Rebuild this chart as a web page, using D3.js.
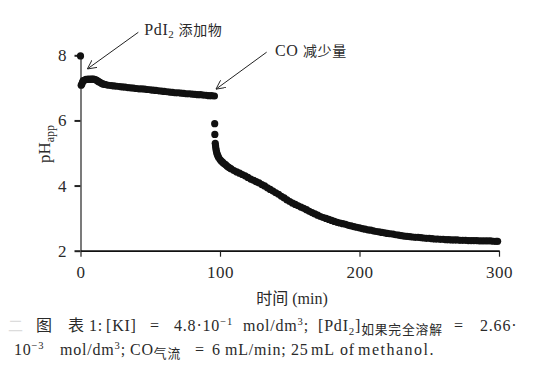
<!DOCTYPE html>
<html>
<head>
<meta charset="utf-8">
<script src="https://cdn.jsdelivr.net/npm/d3@7"></script>
<style>
body { margin: 0; background: #fff; }
text { font-family: "Liberation Serif", "Noto Sans CJK SC", serif; fill: #2a2a2a; }
</style>
</head>
<body>
<svg id="chart" width="538" height="372"></svg>
<script>
const xTicks = [0, 100, 200, 300];
const yTicks = [2, 4, 6, 8];

// before CO flow is reduced (PdI2 added at t=0)
const addTime = [0, 0.5, 1, 1.5, 2, 3, 4, 5, 6, 7, 8, 9, 10, 11, 12, 13, 14, 15, 16, 17, 18,
    20, 22, 24, 26, 28, 30, 32, 34, 36, 38, 40, 42, 44, 46, 48, 50, 52, 54, 56, 58,
    60, 62, 64, 66, 68, 70, 72, 74, 76, 78, 80, 82, 84, 86, 88, 90, 92, 94, 96];
const addPH = [7.98, 7.08, 7.12, 7.18, 7.22, 7.24, 7.26, 7.26, 7.27, 7.26, 7.27, 7.27, 7.26, 7.25, 7.22, 7.19, 7.17, 7.14, 7.12, 7.11, 7.10,
    7.08, 7.07, 7.06, 7.05, 7.04, 7.03, 7.02, 7.01, 7.00, 6.99, 6.98, 6.97, 6.97, 6.96, 6.95, 6.94, 6.93, 6.92, 6.91, 6.90,
    6.89, 6.88, 6.87, 6.86, 6.85, 6.85, 6.84, 6.83, 6.82, 6.82, 6.81, 6.80, 6.79, 6.79, 6.78, 6.77, 6.76, 6.76, 6.75];

// after CO flow is reduced
const coTime = [96.2, 96.3, 96.6, 96.8, 97, 97.3, 97.6, 98, 98.5, 99, 100, 101, 102, 103, 104, 105, 106, 107, 108,
    110, 112, 114, 116, 118, 120, 122, 124, 126, 128, 130, 132, 134, 136, 138, 140, 142, 144, 146, 148,
    150, 152, 154, 156, 158, 160, 162, 164, 166, 168, 170, 172, 174, 176, 178, 180, 182, 184, 186, 188,
    190, 192, 194, 196, 198, 200, 202, 204, 206, 208, 210, 212, 214, 216, 218, 220, 222, 224, 226, 228,
    230, 232, 234, 236, 238, 240, 242, 244, 246, 248, 250, 252, 254, 256, 258, 260, 262, 264, 266, 268,
    270, 272, 274, 276, 278, 280, 282, 284, 286, 288, 290, 292, 294, 296, 298, 299];
const coPH = [5.90, 5.57, 5.30, 5.22, 5.15, 5.08, 5.02, 4.96, 4.91, 4.86, 4.80, 4.75, 4.71, 4.67, 4.64, 4.60, 4.57, 4.54, 4.51,
    4.46, 4.42, 4.38, 4.34, 4.30, 4.25, 4.20, 4.16, 4.12, 4.08, 4.03, 3.99, 3.93, 3.88, 3.83, 3.78, 3.73, 3.67, 3.62, 3.56,
    3.51, 3.46, 3.42, 3.38, 3.34, 3.30, 3.26, 3.21, 3.17, 3.13, 3.09, 3.05, 3.02, 2.99, 2.96, 2.93, 2.90, 2.87, 2.85, 2.83,
    2.81, 2.78, 2.76, 2.74, 2.72, 2.70, 2.68, 2.66, 2.64, 2.63, 2.61, 2.59, 2.58, 2.56, 2.55, 2.53, 2.52, 2.51, 2.49, 2.48,
    2.46, 2.45, 2.44, 2.43, 2.42, 2.41, 2.41, 2.40, 2.39, 2.38, 2.38, 2.37, 2.36, 2.36, 2.35, 2.35, 2.34, 2.34, 2.33, 2.33,
    2.33, 2.32, 2.32, 2.32, 2.31, 2.31, 2.31, 2.31, 2.30, 2.30, 2.30, 2.30, 2.30, 2.29, 2.29, 2.29];

// arrow tips in data units
const noteTime = [4.9, 97.1];
const notePH = [7.58, 6.96];

const svg = d3.select("#chart");

const x = d3.scaleLinear().domain([0, 300]).range([80.5, 499]);
const y = d3.scaleLinear().domain([2, 8]).range([250.7, 55.3]);

// axes
const yAxis = svg.append("g")
    .attr("transform", `translate(${x(0)},0)`)
    .call(d3.axisLeft(y).tickValues(yTicks).tickSize(6).tickSizeOuter(0).tickPadding(7.5).tickFormat(d3.format("d")));
yAxis.attr("font-family", null).attr("font-size", 17);
yAxis.select(".domain").attr("stroke", "#222").attr("stroke-width", 1.2);
yAxis.selectAll(".tick line").attr("stroke", "#222").attr("stroke-width", 2);

const xAxis = svg.append("g")
    .attr("transform", `translate(0,${y(2)})`)
    .call(d3.axisBottom(x).tickValues(xTicks).tickSize(6).tickSizeOuter(0).tickPadding(9.5).tickFormat(d3.format("d")));
xAxis.attr("font-family", null).attr("font-size", 17);
xAxis.select(".domain").attr("stroke", "#111").attr("stroke-width", 1.8);
xAxis.selectAll(".tick line").attr("stroke", "#222").attr("stroke-width", 1.2);

svg.selectAll(".tick text").attr("fill", "#2a2a2a").attr("letter-spacing", 0.5);

// axis titles
svg.append("text")
    .attr("x", 292)
    .attr("y", 304)
    .attr("text-anchor", "middle")
    .attr("font-size", 16)
    .text("时间 (min)");

const yTitle = svg.append("text")
    .attr("transform", "translate(49.5,144) rotate(-90)")
    .attr("text-anchor", "middle")
    .attr("font-size", 17);
yTitle.append("tspan").text("pH");
yTitle.append("tspan").attr("font-size", 12).attr("dy", 4).text("app");

// data points
const points = addTime.map((t, i) => ({t, v: addPH[i]}))
    .concat(coTime.map((t, i) => ({t, v: coPH[i]})));

svg.append("g")
    .selectAll("circle")
    .data(points)
    .enter()
    .append("circle")
    .attr("cx", d => x(d.t))
    .attr("cy", d => y(d.v))
    .attr("r", 3.6)
    .attr("fill", "#111");

// annotations with open arrows
svg.append("defs")
    .append("marker")
    .attr("id", "head")
    .attr("viewBox", "0 0 10 10")
    .attr("refX", 10)
    .attr("refY", 5)
    .attr("markerWidth", 9)
    .attr("markerHeight", 9)
    .attr("markerUnits", "userSpaceOnUse")
    .attr("orient", "auto")
    .append("path")
    .attr("d", "M0,0L10,5L0,10")
    .attr("fill", "none")
    .attr("stroke", "#222")
    .attr("stroke-width", 1);

const arrowFrom = [[51, -36.7], [50.7, -37]];
noteTime.forEach((t, i) =>
{
    svg.append("line")
        .attr("x1", x(t) + arrowFrom[i][0])
        .attr("y1", y(notePH[i]) + arrowFrom[i][1])
        .attr("x2", x(t))
        .attr("y2", y(notePH[i]))
        .attr("stroke", "#222")
        .attr("stroke-width", 1)
        .attr("marker-end", "url(#head)");
});

const note1 = svg.append("text")
    .attr("x", x(noteTime[0]) + 57)
    .attr("y", y(notePH[0]) - 34)
    .attr("font-size", 16)
    .attr("letter-spacing", 0.6);
note1.append("tspan").text("PdI");
note1.append("tspan").attr("font-size", 11).attr("dy", 3).text("2");
note1.append("tspan").attr("dy", -3).attr("font-size", 14).text(" 添加物");

const note2 = svg.append("text")
    .attr("x", x(noteTime[1]) + 59)
    .attr("y", y(notePH[1]) - 33.5)
    .attr("font-size", 16)
    .attr("letter-spacing", 0.6);
note2.append("tspan").text("CO ");
note2.append("tspan").attr("font-size", 14).text("减少量");

// caption
const richText = (x0, y0, parts, size) =>
{
    const t = svg.append("text")
        .attr("x", x0)
        .attr("y", y0)
        .attr("font-size", size)
        .attr("letter-spacing", 0.8);
    let shift = 0;
    parts.forEach(([s, kind]) =>
    {
        let want = 0;
        let fs = size;
        if (kind === "sup") { want = -0.38 * size; fs = size * 0.66; }
        if (kind === "sub") { want = 0.22 * size; fs = size * 0.68; }
        if (kind === "cjk") { want = 0.18 * size; fs = size * 0.8; }
        t.append("tspan").attr("dy", want - shift).attr("font-size", fs).text(s);
        shift = want;
    });
    return t;
};

const capY1 = 331;
const capY2 = 355;
const capSize = 16;

svg.append("text").attr("x", 8).attr("y", capY1).attr("font-size", 15).style("fill", "#dcdcdc").text("二");
richText(36, capY1, [["图", ""]], capSize);
richText(68, capY1, [["表", ""]], capSize);
richText(89, capY1, [["1:", ""]], capSize);
richText(106, capY1, [["[KI]", ""]], capSize);
richText(150, capY1, [["=", ""]], capSize);
richText(174, capY1, [["4.8·10", ""], ["−1", "sup"]], capSize);
richText(243, capY1, [["mol/dm", ""], ["3", "sup"], [";", ""]], capSize);
richText(318, capY1, [["[PdI", ""], ["2", "sub"], ["]", ""], ["如果完全溶解", "cjk"]], capSize);
richText(454, capY1, [["=", ""]], capSize);
richText(480, capY1, [["2.66·", ""]], capSize);

richText(14, capY2, [["10", ""], ["−3", "sup"]], capSize);
richText(60, capY2, [["mol/dm", ""], ["3", "sup"], [";", ""]], capSize);
richText(130, capY2, [["CO", ""], ["气流", "cjk"]], capSize);
richText(195, capY2, [["=", ""]], capSize);
richText(212, capY2, [["6", ""]], capSize);
richText(225, capY2, [["mL/min;", ""]], capSize);
richText(291, capY2, [["25", ""]], capSize);
richText(311, capY2, [["mL", ""]], capSize);
richText(340, capY2, [["of", ""]], capSize);
richText(358, capY2, [["methanol.", ""]], capSize).attr("letter-spacing", 1.5);
</script>
</body>
</html>
